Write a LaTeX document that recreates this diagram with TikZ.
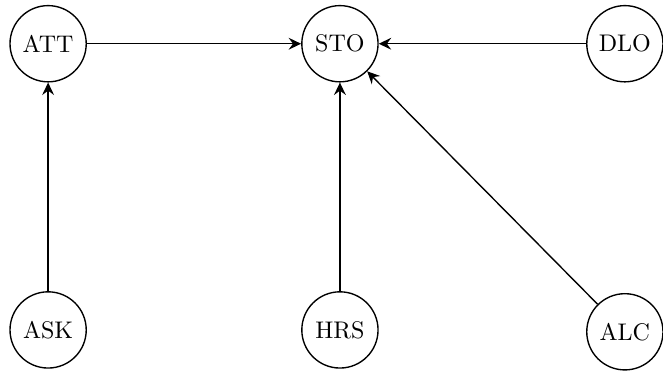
\documentclass[tikz,border=0pt]{standalone}
\usetikzlibrary{arrows.meta}
\begin{document}
\begin{tikzpicture}[>={Stealth[length=2mm, width=1.9mm, inset=0.7mm]},
  state/.style={draw, circle, minimum size=1.22cm, inner sep=0pt, line width=0.022cm}]
  \useasboundingbox (0,0) rectangle (10.61,5.98);
  {\fontsize{10.95}{13}\selectfont
  % Drawing the nodes
  \node [state] (att) at (0.77,5.28) {ATT};%
  \node [state] (sto) at (5.44,5.28) {STO};%
  \node [state] (dlo) at (10.00,5.28) {DLO};%
  \node [state] (ask) at (0.77,0.70) {ASK};%
  \node [state] (hrs) at (5.44,0.70) {HRS};%
  \node [state] (alc) at (10.00,0.67) {ALC};%

  % Drawing the arrows
  \draw [->, line width=0.022cm] (att) -- (sto);%
  \draw [->, line width=0.022cm] (dlo) -- (sto);%
  \draw [->, line width=0.022cm] (ask) -- (att);%
  \draw [->, line width=0.022cm] (hrs) -- (sto);%
  \draw [->, line width=0.022cm] (alc) -- (sto);%
  }
\end{tikzpicture}
\end{document}
